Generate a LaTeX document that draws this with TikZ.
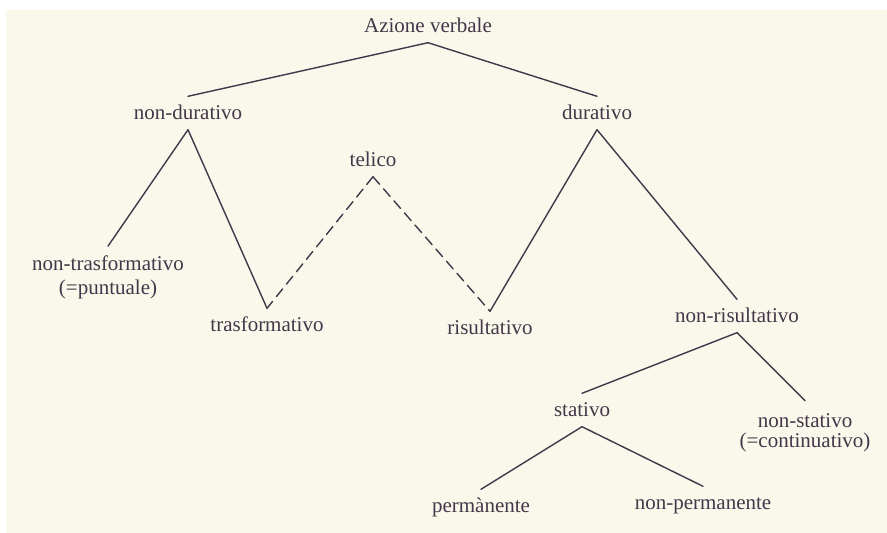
\documentclass[tikz,border=0pt]{standalone}
\usepackage{fontspec}
\setmainfont{Liberation Serif}
\definecolor{carta}{HTML}{FAF7EB}
\definecolor{inchiostro}{HTML}{43384A}
\begin{document}
\begin{tikzpicture}[x=1pt,y=-1pt,line cap=round,line join=round,font=\fontsize{21}{24}\selectfont,color=inchiostro]
	\tikzset{voce/.style={inner xsep=0pt,inner ysep=5pt,text height=14pt,text depth=5pt},
		voce2/.style={inner xsep=0pt,inner ysep=5pt,align=center},
		ramo/.style={line width=1.4pt},
		tratt/.style={ramo,dash pattern=on 10pt off 6pt}}
	\fill[white] (0,0) rectangle (887,533);
	\fill[carta] (6,10) rectangle (887,533);
	\useasboundingbox (0,0) rectangle (887,533);
	% etichette
	\node[voce] (azione) at (428,28) {Azione verbale};
	\node[voce] (nondur) at (188,115) {non-durativo};
	\node[voce] (dur) at (597,115) {durativo};
	\node[voce] (telico) at (373,162) {telico};
	\node[voce2] (nontrasf) at (108,277) {non-trasformativo\\(=puntuale)};
	\node[voce] (trasf) at (267,327) {trasformativo};
	\node[voce] (risult) at (490,330) {risultativo};
	\node[voce] (nonrisult) at (737,318) {non-risultativo};
	\node[voce] (stat) at (582,412) {stativo};
	\node[voce2,font=\fontsize{21}{20}\selectfont] (nonstat) at (805,433) {non-stativo\\(=continuativo)};
	\node[voce] (perm) at (481,508) {perm\`anente};
	\node[voce] (nonperm) at (703,505) {non-permanente};
	% rami
	\foreach \p/\f in {azione/nondur,azione/dur,nondur/nontrasf,nondur/trasf,dur/risult,dur/nonrisult,nonrisult/stat,stat/perm,stat/nonperm}{\draw[ramo] (\p.south) -- ([yshift=4pt]\f.north);}
	\draw[ramo] (nonrisult.south) -- ([yshift=8pt]nonstat.north);
	\foreach \f in {trasf,risult}{\draw[tratt] (telico.south) -- ([yshift=4pt]\f.north);}
\end{tikzpicture}
\end{document}
